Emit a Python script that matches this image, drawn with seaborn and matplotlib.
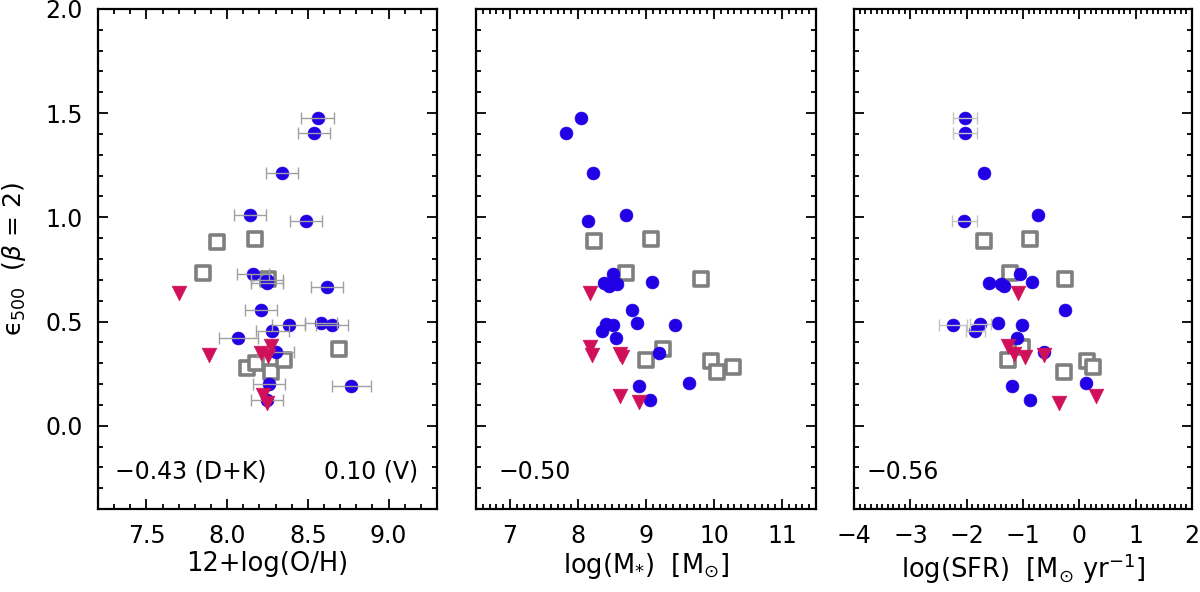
import matplotlib
matplotlib.use("Agg")
import matplotlib.pyplot as plt
import seaborn as sns
from matplotlib.ticker import MultipleLocator, FuncFormatter

# ---- data ----
# panel 1: metallicity
oh_circ_x = [8.56, 8.54, 8.34, 8.14, 8.49, 8.16, 8.245, 8.245, 8.62, 8.21, 8.38, 8.58,
             8.65, 8.28, 8.07, 8.30, 8.26, 8.77, 8.245]
oh_circ_y = [1.478, 1.407, 1.213, 1.010, 0.982, 0.728, 0.697, 0.684, 0.668, 0.556, 0.484, 0.494,
             0.481, 0.455, 0.421, 0.352, 0.202, 0.189, 0.123]
oh_circ_err = [0.10, 0.10, 0.098, 0.098, 0.10, 0.098, 0.10, 0.10, 0.099, 0.099, 0.10, 0.098,
               0.097, 0.10, 0.118, 0.117, 0.098, 0.12, 0.10]
oh_sq_x = [7.94, 8.17, 7.85, 8.25, 8.69, 8.12, 8.18, 8.27, 8.35]
oh_sq_y = [0.883, 0.894, 0.732, 0.702, 0.367, 0.279, 0.303, 0.258, 0.314]
oh_tri_x = [7.70, 7.89, 8.27, 8.21, 8.25, 8.22, 8.245]
oh_tri_y = [0.638, 0.341, 0.381, 0.349, 0.336, 0.147, 0.110]

# panel 2: stellar mass
ms_circ_x = [8.04, 7.82, 8.22, 8.71, 8.14, 8.51, 9.09, 8.38, 8.57, 8.45, 8.80, 8.87,
             8.41, 8.51, 9.43, 8.35, 8.56, 9.19, 9.63, 8.89, 9.06]
ms_circ_y = [1.478, 1.407, 1.213, 1.010, 0.982, 0.728, 0.692, 0.684, 0.678, 0.671, 0.556, 0.494,
             0.486, 0.484, 0.481, 0.455, 0.421, 0.348, 0.204, 0.189, 0.123]
ms_sq_x = [8.24, 9.07, 8.70, 9.81, 9.25, 9.00, 9.96, 10.04, 10.28]
ms_sq_y = [0.886, 0.897, 0.732, 0.704, 0.369, 0.317, 0.309, 0.256, 0.280]
ms_tri_x = [8.17, 8.18, 8.20, 8.61, 8.64, 8.61, 8.90]
ms_tri_y = [0.638, 0.377, 0.341, 0.344, 0.332, 0.144, 0.115]

# panel 3: star formation rate (only points with visible x error bars get them)
sfr_circ_x = [-2.03, -2.03, -1.69, -2.04, -0.74, -1.05, -1.61, -1.40, -1.34, -0.84, -0.26, -2.24,
              -1.76, -1.85, -1.45, -1.02, -1.11, -0.62, -1.19, 0.12, -0.87]
sfr_circ_y = [1.478, 1.407, 1.213, 0.982, 1.010, 0.728, 0.684, 0.680, 0.671, 0.692, 0.556, 0.481,
              0.486, 0.455, 0.494, 0.481, 0.421, 0.353, 0.189, 0.204, 0.123]
sfr_err_x = [-2.03, -2.03, -2.04, -2.24, -1.76, -1.85]
sfr_err_y = [1.478, 1.407, 0.982, 0.481, 0.486, 0.455]
sfr_err = [0.22, 0.22, 0.23, 0.25, 0.19, 0.17]
sfr_sq_x = [-1.69, -0.87, -1.23, -0.26, -1.02, -1.27, 0.13, 0.25, -0.28]
sfr_sq_y = [0.885, 0.896, 0.732, 0.702, 0.377, 0.316, 0.309, 0.280, 0.258]
sfr_tri_x = [-1.09, -1.26, -1.16, -0.96, -0.62, -0.36, 0.29]
sfr_tri_y = [0.638, 0.381, 0.344, 0.332, 0.341, 0.110, 0.144]

corr_labels = [["\u22120.43 (D+K)", "0.10 (V)"], ["\u22120.50"], ["\u22120.56"]]
x_labels = ["12+log(O/H)", r"log(M$_{*}$)  [M$_{\odot}$]", r"log(SFR)  [M$_{\odot}$ yr$^{-1}$]"]

blue = "#2200e6"
red = "#d0105a"
grey = "#7f7f7f"

sns.set_style("ticks")
plt.rcParams['font.family'] = ['DejaVu Sans']
plt.rcParams['mathtext.fontset'] = 'dejavusans'
plt.rcParams['text.color'] = 'black'
plt.rcParams['axes.labelcolor'] = 'black'
plt.rcParams['xtick.color'] = 'black'
plt.rcParams['ytick.color'] = 'black'

fig = plt.figure(figsize=(12, 5.92), dpi=100)
lefts = [0.0817, 0.3967, 0.7117]
widths = [0.2825, 0.2833, 0.2817]
axes = [fig.add_axes([l, 0.1402, w, 0.8446]) for l, w in zip(lefts, widths)]

panels = [
    (oh_circ_x, oh_circ_y, oh_sq_x, oh_sq_y, oh_tri_x, oh_tri_y),
    (ms_circ_x, ms_circ_y, ms_sq_x, ms_sq_y, ms_tri_x, ms_tri_y),
    (sfr_circ_x, sfr_circ_y, sfr_sq_x, sfr_sq_y, sfr_tri_x, sfr_tri_y),
]

for ax, (cx, cy, sx, sy, tx, ty) in zip(axes, panels):
    sns.scatterplot(x=sx, y=sy, ax=ax, marker="s", s=110, facecolor="white",
                    edgecolor=grey, linewidth=2.6, zorder=2)
    sns.scatterplot(x=cx, y=cy, ax=ax, marker="o", s=85, color=blue,
                    edgecolor=blue, linewidth=0.5, zorder=3)
    sns.scatterplot(x=tx, y=ty, ax=ax, marker="v", s=110, color=red,
                    edgecolor=red, linewidth=0.5, zorder=4)

axes[0].errorbar(oh_circ_x, oh_circ_y, xerr=oh_circ_err, fmt="none", ecolor="#a0a0a0",
                 elinewidth=1.0, capsize=4, capthick=1.0, zorder=3.5)
axes[2].errorbar(sfr_err_x, sfr_err_y, xerr=sfr_err, fmt="none", ecolor="#c4c4bc",
                 elinewidth=1.0, capsize=4, capthick=1.0, zorder=3.5)

axes[0].set_xlim(7.2, 9.3)
axes[0].xaxis.set_major_locator(MultipleLocator(0.5))
axes[0].xaxis.set_minor_locator(MultipleLocator(0.1))
axes[1].set_xlim(6.5, 11.5)
axes[1].xaxis.set_major_locator(MultipleLocator(1))
axes[1].xaxis.set_minor_locator(MultipleLocator(0.1))
axes[2].set_xlim(-4, 2)
axes[2].xaxis.set_major_locator(MultipleLocator(1))
axes[2].xaxis.set_minor_locator(MultipleLocator(0.1))

for i, ax in enumerate(axes):
    ax.set_ylim(-0.4, 2.0)
    ax.yaxis.set_major_locator(MultipleLocator(0.5))
    ax.yaxis.set_minor_locator(MultipleLocator(0.1))
    ax.tick_params(which="both", direction="in", top=True, right=True, width=1.3,
                   color="black", labelsize=17, pad=11)
    ax.tick_params(which="major", length=7)
    ax.tick_params(which="minor", length=3.5)
    for sp in ax.spines.values():
        sp.set_linewidth(1.6)
        sp.set_color("black")
    ax.set_xlabel(x_labels[i], fontsize=18.5, labelpad=2)
    if i > 0:
        ax.set_yticklabels([])
    if i == 0:
        ax.xaxis.set_major_formatter(FuncFormatter(lambda v, p: f"{v:.1f}"))
    else:
        ax.xaxis.set_major_formatter(FuncFormatter(lambda v, p: f"{v:.0f}".replace("-", "\u2212")))

axes[0].yaxis.set_major_formatter(FuncFormatter(lambda v, p: f"{v:.1f}"))
axes[0].set_ylabel("\u03f5$_{500}$  ($\\beta$ = 2)", fontsize=18, labelpad=12)

axes[0].text(0.05, 0.075, corr_labels[0][0], transform=axes[0].transAxes, fontsize=17, va="center")
axes[0].text(0.944, 0.075, corr_labels[0][1], transform=axes[0].transAxes, fontsize=17,
             va="center", ha="right")
axes[1].text(0.065, 0.075, corr_labels[1][0], transform=axes[1].transAxes, fontsize=17, va="center")
axes[2].text(0.036, 0.075, corr_labels[2][0], transform=axes[2].transAxes, fontsize=17, va="center")

fig.savefig("out.png", dpi=100)
